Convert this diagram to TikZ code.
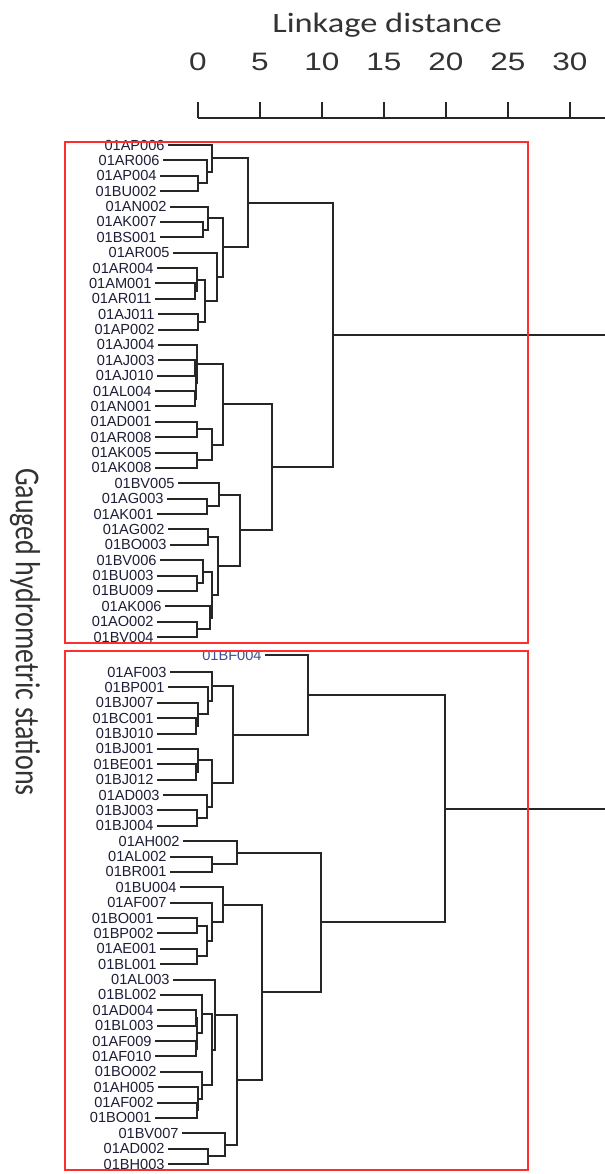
\documentclass[tikz,border=0pt]{standalone}
\usepackage{fontspec}
\usepackage{graphicx}
\setmainfont{Liberation Sans}
\newfontfamily\calib{Carlito}
\usetikzlibrary{calc}
\definecolor{dk}{HTML}{262626}
\definecolor{lab}{HTML}{1E1E38}
\definecolor{rd}{HTML}{FF2E2E}
\definecolor{bfc}{HTML}{40508C}
\newcommand\mrg[4]{\draw[dl] (#1) -| (#2 -| #3,0) -- (#2); \coordinate (#4) at ($(#1 -| #3,0)!0.5!(#2 -| #3,0)$);}
\newcommand\leaf[4]{\node[lf] (#1) at (#2,#3) {#4};}
\tikzset{
  dl/.style={draw=dk, line width=1pt},
  lf/.style={anchor=east, inner xsep=1.5pt, inner ysep=0pt, text=lab, font=\fontsize{7.3}{8}\selectfont},
  redbox/.style={draw=rd, line width=1.1pt},
  axl/.style={draw=black!85, line width=0.9pt},
  tick/.style={font=\fontsize{12.6}{14}\selectfont, text=black!80, inner sep=0pt},
}
\begin{document}
\begin{tikzpicture}[x=0.5pt, y=-0.5pt]
\useasboundingbox[fill=white] (0,0) rectangle (605,1174);
% axis
\node[font=\calib\fontsize{14}{16}\selectfont, text=black!80, inner sep=0pt] (title) at (387,25) {\scalebox{1.23}[1]{Linkage distance}};
\draw[axl] (198,118) -- (605,118);
\foreach \v/\xx in {0/198,5/260,10/322,15/384,20/446,25/508,30/570}{
  \draw[axl] (\xx,102) -- (\xx,118);
  \node[tick] (tk\v) at (\xx,62) {\scalebox{1.25}[1]{\v}};
}
\node[inner sep=0pt, text=black!80] (side) at (25,632) {\rotatebox{-90}{\scalebox{1}[1.25]{\calib\fontsize{14}{16}\selectfont Gauged hydrometric stations}}};
% top leaves
\leaf{t1}{168}{145}{01AP006}
\leaf{t2}{163}{160.4}{01AR006}
\leaf{t3}{160}{175.75}{01AP004}
\leaf{t4}{160}{191.1}{01BU002}
\leaf{t5}{170}{206.5}{01AN002}
\leaf{t6}{160}{221.9}{01AK007}
\leaf{t7}{160}{237.25}{01BS001}
\leaf{t8}{173}{252.6}{01AR005}
\leaf{t9}{157}{268}{01AR004}
\leaf{t10}{155}{283.4}{01AM001}
\leaf{t11}{155}{298.75}{01AR011}
\leaf{t12}{158}{314.1}{01AJ011}
\leaf{t13}{158}{329.5}{01AP002}
\leaf{t14}{158}{344.9}{01AJ004}
\leaf{t15}{158}{360.25}{01AJ003}
\leaf{t16}{157}{375.6}{01AJ010}
\leaf{t17}{155}{391}{01AL004}
\leaf{t18}{155}{406.4}{01AN001}
\leaf{t19}{155}{421.75}{01AD001}
\leaf{t20}{155}{437.1}{01AR008}
\leaf{t21}{155}{452.5}{01AK005}
\leaf{t22}{155}{467.9}{01AK008}
\leaf{t23}{178}{483.25}{01BV005}
\leaf{t24}{167}{498.6}{01AG003}
\leaf{t25}{157}{514}{01AK001}
\leaf{t26}{168}{529.4}{01AG002}
\leaf{t27}{170}{544.75}{01BO003}
\leaf{t28}{160}{560.1}{01BV006}
\leaf{t29}{157}{575.5}{01BU003}
\leaf{t30}{157}{590.9}{01BU009}
\leaf{t31}{165}{606.25}{01AK006}
\leaf{t32}{157}{621.6}{01AO002}
\leaf{t33}{157}{637}{01BV004}
% bottom leaves
\node[lf, text=bfc] (b0) at (265,655) {01BF004};
\leaf{b1}{170}{672}{01AF003}
\leaf{b2}{168}{687.4}{01BP001}
\leaf{b3}{157}{702.75}{01BJ007}
\leaf{b4}{157}{718.1}{01BC001}
\leaf{b5}{157}{733.5}{01BJ010}
\leaf{b6}{157}{748.9}{01BJ001}
\leaf{b7}{157}{764.25}{01BE001}
\leaf{b8}{157}{779.6}{01BJ012}
\leaf{b9}{163}{795}{01AD003}
\leaf{b10}{157}{810.4}{01BJ003}
\leaf{b11}{157}{825.75}{01BJ004}
\leaf{b12}{183}{841.1}{01AH002}
\leaf{b13}{170}{856.5}{01AL002}
\leaf{b14}{170}{871.9}{01BR001}
\leaf{b15}{180}{887.25}{01BU004}
\leaf{b16}{170}{902.6}{01AF007}
\leaf{b17}{157}{918}{01BO001}
\leaf{b18}{157}{933.4}{01BP002}
\leaf{b19}{160}{948.75}{01AE001}
\leaf{b20}{160}{964.1}{01BL001}
\leaf{b21}{173}{979.5}{01AL003}
\leaf{b22}{160}{994.9}{01BL002}
\leaf{b23}{157}{1010.25}{01AD004}
\leaf{b24}{157}{1025.6}{01BL003}
\leaf{b25}{155}{1041}{01AF009}
\leaf{b26}{155}{1056.4}{01AF010}
\leaf{b27}{160}{1071.75}{01BO002}
\leaf{b28}{158}{1087.1}{01AH005}
\leaf{b29}{157}{1102.5}{01AF002}
\leaf{b30}{155}{1117.9}{01BO001}
\leaf{b31}{182}{1133.25}{01BV007}
\leaf{b32}{168}{1148.6}{01AD002}
\leaf{b33}{168}{1164}{01BH003}
% top tree
\mrg{t3.east}{t4.east}{198}{a1}
\mrg{t2.east}{a1}{207}{a2}
\mrg{t1.east}{a2}{212}{a3}
\mrg{t6.east}{t7.east}{203}{a4}
\mrg{t5.east}{a4}{208}{a5}
\mrg{t10.east}{t11.east}{195}{a6}
\mrg{t9.east}{a6}{197}{a7}
\mrg{t12.east}{t13.east}{198}{a8}
\mrg{a7}{a8}{205}{a9}
\mrg{t8.east}{a9}{217}{a10}
\mrg{a5}{a10}{223}{a11}
\mrg{a3}{a11}{248}{a12}
\mrg{t15.east}{t16.east}{195}{c1}
\mrg{t17.east}{t18.east}{195}{c2}
\mrg{c1}{c2}{196}{c3}
\mrg{t14.east}{c3}{197}{c4}
\mrg{t19.east}{t20.east}{197}{c5}
\mrg{t21.east}{t22.east}{197}{c6}
\mrg{c5}{c6}{212}{c7}
\mrg{c4}{c7}{223}{c8}
\mrg{t24.east}{t25.east}{207}{d1}
\mrg{t23.east}{d1}{219}{d2}
\mrg{t26.east}{t27.east}{208}{d3}
\mrg{t29.east}{t30.east}{197}{d4}
\mrg{t28.east}{d4}{203}{d5}
\mrg{t32.east}{t33.east}{197}{d6}
\mrg{t31.east}{d6}{210}{d7}
\mrg{d5}{d7}{212}{d8}
\mrg{d3}{d8}{218}{d9}
\mrg{d2}{d9}{240}{d10}
\mrg{c8}{d10}{272}{c9}
\mrg{a12}{c9}{333}{rt}
\coordinate (rtend) at (605,0 |- rt);
\draw[dl] (rt) -- (rtend);
% bottom tree
\mrg{b4.east}{b5.east}{196}{e1}
\mrg{b3.east}{e1}{198}{e2}
\mrg{b2.east}{e2}{208}{e3}
\mrg{b1.east}{e3}{212}{e4}
\mrg{b7.east}{b8.east}{196}{e5}
\mrg{b6.east}{e5}{198}{e6}
\mrg{b10.east}{b11.east}{197}{e7}
\mrg{b9.east}{e7}{207}{e8}
\mrg{e6}{e8}{212}{e9}
\mrg{e4}{e9}{233}{e10}
\mrg{b0.east}{e10}{308}{e11}
\mrg{b13.east}{b14.east}{212}{f1}
\mrg{b12.east}{f1}{237}{f2}
\mrg{b17.east}{b18.east}{197}{g1}
\mrg{b19.east}{b20.east}{197}{g2}
\mrg{g1}{g2}{207}{g3}
\mrg{b16.east}{g3}{212}{g4}
\mrg{b15.east}{g4}{223}{g5}
\mrg{b23.east}{b24.east}{196}{h1}
\mrg{b25.east}{b26.east}{196}{h2}
\mrg{h1}{h2}{197}{h3}
\mrg{b22.east}{h3}{202}{h4}
\mrg{b29.east}{b30.east}{197}{h5}
\mrg{b28.east}{h5}{198}{h6}
\mrg{b27.east}{h6}{202}{h7}
\mrg{h4}{h7}{212}{h8}
\mrg{b21.east}{h8}{215}{h9}
\mrg{b32.east}{b33.east}{208}{i1}
\mrg{b31.east}{i1}{225}{i2}
\mrg{h9}{i2}{237}{i3}
\mrg{g5}{i3}{262}{i4}
\mrg{f2}{i4}{321}{i5}
\mrg{e11}{i5}{445}{rb}
\coordinate (rbend) at (605,0 |- rb);
\draw[dl] (rb) -- (rbend);
% red boxes
\draw[redbox] (65,142) rectangle (528,643);
\draw[redbox] (65,651) rectangle (528,1170);
\end{tikzpicture}
\end{document}
